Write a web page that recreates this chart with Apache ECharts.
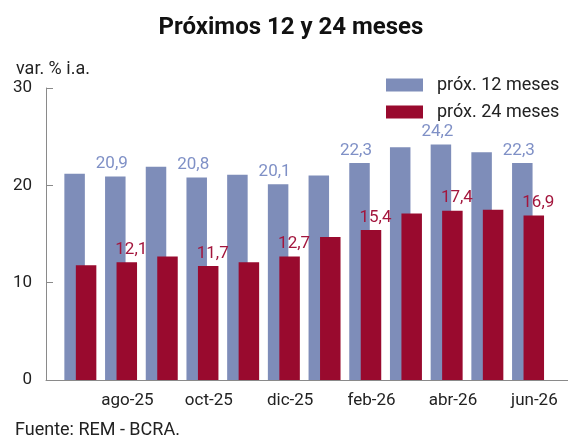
<!DOCTYPE html>
<html>
<head>
<meta charset="utf-8">
<script src="https://cdn.jsdelivr.net/npm/echarts@6/dist/echarts.min.js"></script>
<style>
  html, body { margin: 0; padding: 0; background: #fff; }
  #chart { width: 568px; height: 435px; }
</style>
</head>
<body>
<div id="chart"></div>
<script>
// meses de la encuesta
var meses = ['jul-25', 'ago-25', 'sep-25', 'oct-25', 'nov-25', 'dic-25',
             'ene-26', 'feb-26', 'mar-26', 'abr-26', 'may-26', 'jun-26'];
// próximos 12 meses (var. % i.a.)
var prox12 = [21.2, 20.9, 21.9, 20.8, 21.1, 20.1, 21.0, 22.3, 23.9, 24.2, 23.4, 22.3];
// próximos 24 meses
var prox24 = [11.8, 12.1, 12.7, 11.7, 12.1, 12.7, 14.7, 15.4, 17.1, 17.4, 17.5, 16.9];
var yTicks = [0, 10, 20, 30];

var azul = '#7e8db9';
var bordo = '#990a2e';
var fuente = 'Roboto, sans-serif';

var chart = echarts.init(document.getElementById('chart'));

function etiqueta(p) {
    // solo cada dos meses
    if (p.dataIndex % 2 !== 1) return '';
    return p.value.toFixed(1).replace('.', ',');
}

var option = {
    animation: false,
    textStyle: { fontFamily: fuente },
    title: [{
        text: 'Próximos 12 y 24 meses',
        left: 286,
        textAlign: 'center',
        top: 11,
        textStyle: { fontSize: 24, fontWeight: 'bold', color: '#111', fontFamily: fuente }
    }, {
        text: 'var. % i.a.',
        left: 11,
        top: 55,
        textStyle: { fontSize: 18, fontWeight: 'normal', color: '#222', fontFamily: fuente }
    }, {
        text: 'Fuente: REM - BCRA.',
        left: 10,
        top: 416,
        textStyle: { fontSize: 18, fontWeight: 'normal', color: '#222', fontFamily: fuente }
    }],
    legend: {
        orient: 'vertical',
        left: 381,
        top: 71,
        itemWidth: 37,
        itemHeight: 13,
        itemGap: 9,
        icon: 'rect',
        textStyle: { fontSize: 18, color: '#222', padding: [0, 0, 0, 9] },
        data: ['próx. 12 meses', 'próx. 24 meses']
    },
    grid: [
        // barras
        { left: 60, right: 19.6, top: 88, bottom: 55 },
        // ejes visibles
        { left: 46, right: 0, top: 88, bottom: 55 }
    ],
    xAxis: [{
        type: 'category',
        gridIndex: 0,
        data: meses,
        show: false
    }, {
        type: 'value',
        gridIndex: 1,
        min: 0,
        max: 522 / 40.7,
        axisLine: { show: true, lineStyle: { color: '#8a8a8a', width: 1 } },
        axisTick: {
            show: true, inside: true, length: 7,
            lineStyle: { color: '#444' },
            customValues: [2, 4, 6, 8, 10, 12]
        },
        axisLabel: {
            fontSize: 17, color: '#222', margin: 12,
            customValues: [2, 4, 6, 8, 10, 12],
            formatter: function (v) { return meses[v - 1]; }
        },
        splitLine: { show: false }
    }],
    yAxis: [{
        type: 'value',
        gridIndex: 0,
        min: 0, max: 30, interval: 10,
        show: false
    }, {
        type: 'value',
        gridIndex: 1,
        min: 0, max: 30, interval: 10,
        axisLine: { show: true, lineStyle: { color: '#8a8a8a', width: 1 } },
        axisTick: { show: true, inside: true, length: 7, lineStyle: { color: '#8a8a8a' } },
        axisLabel: {
            fontSize: 17, color: '#222', margin: 14,
            customValues: yTicks
        },
        splitLine: { show: false }
    }],
    series: [{
        name: 'próx. 12 meses',
        type: 'bar',
        xAxisIndex: 0,
        yAxisIndex: 0,
        data: prox12,
        barWidth: 20.5,
        itemStyle: { color: azul },
        label: {
            show: true,
            position: 'top',
            distance: 4,
            offset: [-3.5, 0],
            fontSize: 17,
            color: '#7f90c6',
            formatter: etiqueta
        }
    }, {
        name: 'próx. 24 meses',
        type: 'bar',
        xAxisIndex: 0,
        yAxisIndex: 0,
        data: prox24,
        barWidth: 20.5,
        barGap: '-44%',
        itemStyle: { color: bordo },
        label: {
            show: true,
            position: 'top',
            distance: 4,
            offset: [4.5, 0],
            fontSize: 17,
            color: '#a3163d',
            formatter: etiqueta
        }
    }]
};

chart.setOption(option);
</script>
</body>
</html>
